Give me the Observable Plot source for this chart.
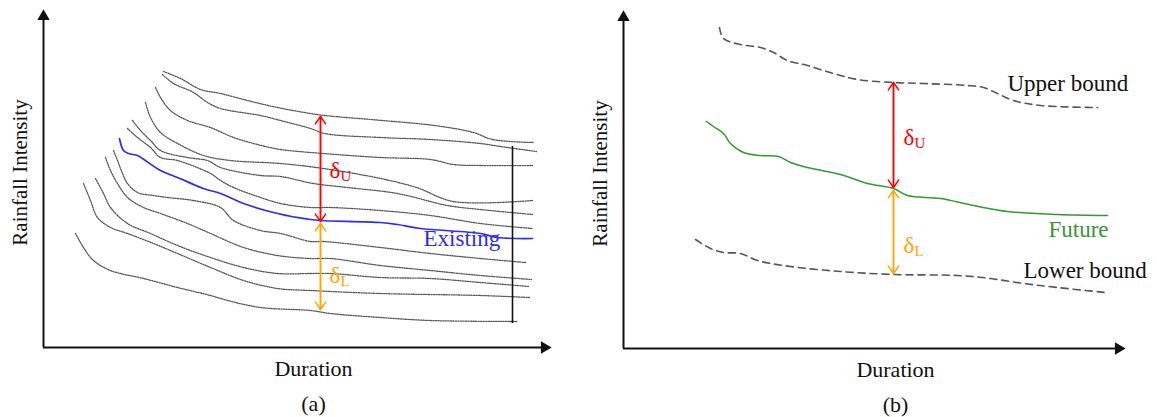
<!DOCTYPE html>
<html><head><meta charset="utf-8">
<script src="https://cdn.jsdelivr.net/npm/d3@7"></script>
<script src="https://cdn.jsdelivr.net/npm/@observablehq/plot@0.6"></script>
<style>
html,body{margin:0;padding:0;background:#fff;}
#wrap{display:flex;width:1157px;height:417px;overflow:hidden;}
#wrap svg{display:block;flex:none;}
</style></head><body><div id="wrap"></div>
<script>
// ---- Panel (a): ensemble of IDF curves, [duration, intensity] in arbitrary units ----
const idf1  = [[120,276],[137,269],[157,258],[177,254],[204,247],[234,240],[267,234],[281,232],[339,227],[391,222],[430,215],[449,208],[490,205]];
const idf2  = [[119,273],[130,264],[150,255],[164,245],[177,239],[217,232],[237,227],[267,219],[281,214],[337,210],[387,208],[437,204],[457,201],[493,196]];
const idf3  = [[112,260],[117,250],[127,237],[144,227],[167,220],[190,210],[222,201],[237,198],[280,194],[337,190],[387,188],[410,183],[437,182],[489,182]];
const idf4  = [[102,245],[107,230],[117,215],[134,204],[160,192],[187,187],[237,184],[280,179],[337,169],[373,160],[410,146],[489,147]];
const idf5  = [[89,227],[97,217],[107,207],[117,197],[144,190],[164,187],[177,180],[217,172],[237,171],[270,164],[304,160],[354,154],[404,142],[437,138],[489,133]];
const idf6  = [[84,219],[94,210],[107,200],[117,190],[134,187],[167,174],[177,167],[190,160],[217,150],[237,144],[267,140],[287,140],[337,137],[387,132],[437,124],[489,119]];
const idf7  = [[70,197],[74,187],[79,174],[84,164],[94,155],[110,152],[124,150],[150,147],[177,140],[190,127],[217,117],[237,114],[267,106],[280,106],[337,100],[387,94],[437,89],[482,85]];
const idf8  = [[62,190],[67,177],[74,164],[84,150],[100,140],[117,134],[144,124],[167,114],[200,100],[234,92],[267,89],[287,89],[337,82],[387,77],[437,72],[488,68]];
const idf9  = [[52,169],[60,154],[67,140],[84,124],[107,114],[134,102],[167,90],[200,80],[234,74],[267,74],[287,74],[337,70],[387,69],[437,65],[486,61]];
const idf10 = [[40,164],[47,147],[54,130],[67,120],[84,114],[110,104],[134,94],[167,80],[200,67],[234,59],[267,57],[337,54],[437,52],[486,50]];
const idf11 = [[32,114],[40,100],[50,87],[67,77],[100,69],[134,60],[167,52],[184,47],[217,40],[267,37],[287,34],[337,30],[387,27],[474,26]];
const existing = [[76,209],[80,197],[85,194],[94,192],[99,189],[117,177],[134,170],[160,159],[177,154],[200,144],[234,134],[267,128],[277,127],[337,125],[354,123],[377,119],[437,114],[454,110],[489,109]];
// spread of the ensemble at the longest duration
const ensembleRange = [{d: 469, lo: 24, hi: 201}];
// deviation arrows (duration, from, to)
const deltaUa = [{d: 277, from: 231, to: 126}];
const deltaLa = [{d: 277, from: 124, to: 38}];

// ---- Panel (b): future curve with bounds ----
const upperBound = [[96,321],[100,310],[117,304],[137,301],[150,296],[164,288],[184,283],[210,275],[234,269],[270,266],[300,265],[344,263],[360,261],[374,255],[390,248],[417,243],[474,241]];
const future     = [[83,227],[90,222],[100,215],[107,205],[120,196],[137,193],[155,192],[167,186],[184,181],[217,174],[244,165],[270,160],[284,153],[317,150],[350,143],[384,137],[434,134],[484,133]];
const lowerBound = [[72,109],[87,100],[100,96],[117,95],[134,88],[167,82],[217,77],[270,74],[334,73],[367,70],[400,65],[434,61],[482,56]];
const deltaUb = [{d: 270, from: 266, to: 161}];
const deltaLb = [{d: 270, from: 158, to: 75}];

// ---- Text labels ----
const xLabel = "Duration";
const yLabel = "Rainfall Intensity";
const labelsA = [{d: 380, i: 109, t: "Existing"}];
const deltaLabelsA = [{d: 286, i: 177, t: "δ", s: "U", c: "#ff0000"}, {d: 286, i: 72, t: "δ", s: "L", c: "#ffa500"}];
const labelsB = [{d: 384, i: 265, t: "Upper bound", c: "#111"}, {d: 425, i: 119, t: "Future", c: "#339933"}, {d: 400, i: 78, t: "Lower bound", c: "#111"}];
const deltaLabelsB = [{d: 280, i: 211, t: "δ", s: "U", c: "#ff0000"}, {d: 280, i: 103, t: "δ", s: "L", c: "#ffa500"}];

const FONT = "Liberation Serif, Times New Roman, serif";
const rows = (pts, id) => pts.map(([d, i]) => ({d, i, id}));

function axesMarks() {
  return [
    Plot.ruleX([0], {stroke: "#111", strokeWidth: 2, insetTop: 6}),
    Plot.ruleY([0], {stroke: "#111", strokeWidth: 2, insetRight: 6}),
    Plot.dot([0], {frameAnchor: "top-left", symbol: "triangle", r: 4.6, fill: "#111", stroke: "none", dy: 7}),
    Plot.dot([0], {frameAnchor: "bottom-right", symbol: "triangle", r: 4.6, fill: "#111", stroke: "none", rotate: 90, dx: -7})
  ];
}
function deltaArrow(data, color) {
  const opts = {stroke: color, strokeWidth: 1.5, headLength: 9, headAngle: 70};
  return [
    Plot.arrow(data, {x1: "d", x2: "d", y1: "from", y2: "to", ...opts}),
    Plot.arrow(data, {x1: "d", x2: "d", y1: "to", y2: "from", ...opts})
  ];
}
function deltaText(data) {
  return [
    Plot.text(data, {x: "d", y: "i", text: "t", fill: "c", textAnchor: "start", fontSize: 23, fontFamily: FONT}),
    Plot.text(data, {x: "d", y: "i", text: "s", fill: "c", textAnchor: "start", fontSize: 15, dx: 11, dy: 6, fontFamily: FONT})
  ];
}
function axisText(center, caption) {
  const common = {fontFamily: FONT, fill: "#111", textAnchor: "middle", lineAnchor: "middle"};
  return [
    Plot.text([xLabel], {x: () => center, text: d => d, frameAnchor: "bottom", dy: 21, fontSize: 22, ...common}),
    Plot.text([caption], {x: () => center, text: d => d, frameAnchor: "bottom", dy: 56, fontSize: 22, ...common}),
    Plot.text([yLabel], {y: () => 175, text: d => d, frameAnchor: "left", dx: -23, rotate: -90, fontSize: 21, ...common})
  ];
}

const ensemble = [idf1, idf2, idf3, idf4, idf5, idf6, idf7, idf8, idf9, idf10, idf11].flatMap((c, k) => rows(c, "c" + k));

const plotA = Plot.plot({
  width: 580, height: 417,
  marginLeft: 43, marginRight: 29, marginTop: 9, marginBottom: 70,
  x: {domain: [0, 508], axis: null},
  y: {domain: [0, 338], axis: null},
  color: {type: "identity"},
  style: {background: "white", fontFamily: FONT, overflow: "visible"},
  marks: [
    Plot.line(ensemble, {x: "d", y: "i", z: "id", stroke: "#555", strokeWidth: 1.3, strokeDasharray: "1.2,1.3", curve: "catmull-rom"}),
    Plot.line(rows(existing, "e"), {x: "d", y: "i", stroke: "#2b2bff", strokeWidth: 1.7, curve: "catmull-rom"}),
    Plot.ruleX(ensembleRange, {x: "d", y1: "lo", y2: "hi", stroke: "#111", strokeWidth: 1.6}),
    ...deltaArrow(deltaUa, "#ff0000"),
    ...deltaArrow(deltaLa, "#ffa500"),
    ...axesMarks(),
    Plot.text(labelsA, {x: "d", y: "i", text: "t", textAnchor: "start", fill: "#2b2bff", fontSize: 23, fontFamily: FONT}),
    ...deltaText(deltaLabelsA),
    ...axisText(270, "(a)")
  ]
});

const plotB = Plot.plot({
  width: 577, height: 417,
  marginLeft: 43, marginRight: 32, marginTop: 10, marginBottom: 69,
  x: {domain: [0, 502], axis: null},
  y: {domain: [0, 338], axis: null},
  color: {type: "identity"},
  style: {background: "white", fontFamily: FONT, overflow: "visible"},
  marks: [
    Plot.line(rows(upperBound, "u"), {x: "d", y: "i", stroke: "#555", strokeWidth: 1.6, strokeDasharray: "7,5", curve: "catmull-rom"}),
    Plot.line(rows(lowerBound, "l"), {x: "d", y: "i", stroke: "#555", strokeWidth: 1.6, strokeDasharray: "7,5", curve: "catmull-rom"}),
    Plot.line(rows(future, "f"), {x: "d", y: "i", stroke: "#339933", strokeWidth: 1.5, curve: "catmull-rom"}),
    ...deltaArrow(deltaUb, "#ff0000"),
    ...deltaArrow(deltaLb, "#ffa500"),
    ...axesMarks(),
    Plot.text(labelsB, {x: "d", y: "i", text: "t", fill: "c", textAnchor: "start", fontSize: 23, fontFamily: FONT}),
    ...deltaText(deltaLabelsB),
    ...axisText(272, "(b)")
  ]
});

const wrap = document.getElementById("wrap");
wrap.appendChild(plotA);
wrap.appendChild(plotB);
</script></body></html>
